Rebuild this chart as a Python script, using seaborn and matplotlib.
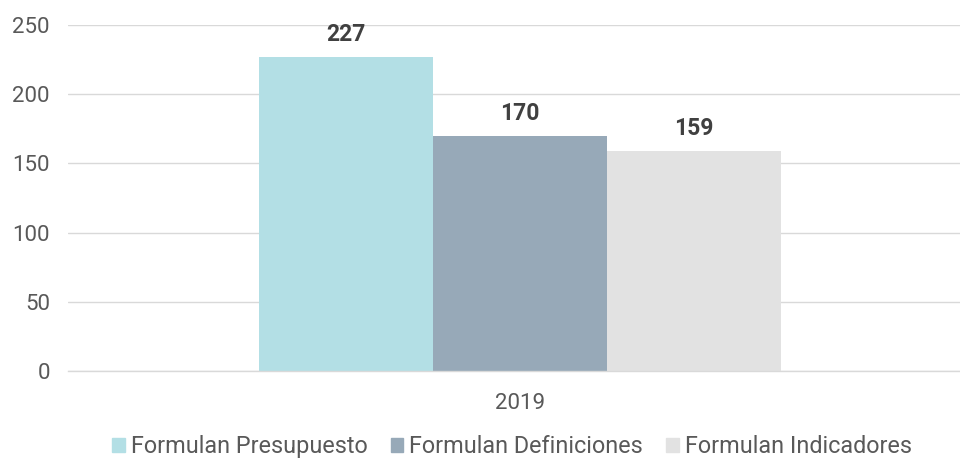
import matplotlib
matplotlib.use('Agg')
import matplotlib.pyplot as plt
import seaborn as sns
import pandas as pd

# Data
categories = ['2019']
series = ['Formulan Presupuesto', 'Formulan Definiciones', 'Formulan Indicadores']
values = [227, 170, 159]
colors = ['#b3dfe5', '#97a9b8', '#e2e2e2']
y_ticks = [0, 50, 100, 150, 200, 250]

df = pd.DataFrame({
    'year': categories * len(series),
    'serie': series,
    'value': values,
})

sns.set_style('white')
plt.rcParams['font.family'] = ['Roboto', 'DejaVu Sans']

fig = plt.figure(figsize=(9.6, 4.63), dpi=100)
ax = fig.add_axes([68 / 960, 1 - 371 / 463, 892 / 960, (371 - 25) / 463])

sns.barplot(data=df, x='year', y='value', hue='serie', palette=colors,
            width=0.8, saturation=1, linewidth=0, legend=False, ax=ax)

ax.set_ylim(0, 250)
ax.set_xlim(-0.693, 0.675)
ax.set_yticks(y_ticks)
ax.yaxis.grid(True, color='#d9d9d9', linewidth=1)
ax.set_axisbelow(True)
for side in ['top', 'right', 'left']:
    ax.spines[side].set_visible(False)
ax.spines['bottom'].set_color('#d9d9d9')
ax.spines['bottom'].set_linewidth(1)
ax.tick_params(axis='both', length=0, labelsize=16, colors='#595959')
ax.tick_params(axis='y', pad=13)
ax.tick_params(axis='x', pad=16)
ax.set_xlabel('')
ax.set_ylabel('')

for container in ax.containers:
    ax.bar_label(container, padding=8, fontsize=16.5, fontweight='bold', color='#404040')

handles = [plt.Rectangle((0, 0), 1, 1, color=c) for c in colors]
fig.legend(handles, series, loc='lower center', bbox_to_anchor=(512 / 960, -0.035),
           ncol=3, frameon=False, fontsize=16.8, labelcolor='#595959',
           handlelength=0.55, handleheight=0.55, handletextpad=0.25, columnspacing=1.0)

fig.savefig('out.png', dpi=100)
